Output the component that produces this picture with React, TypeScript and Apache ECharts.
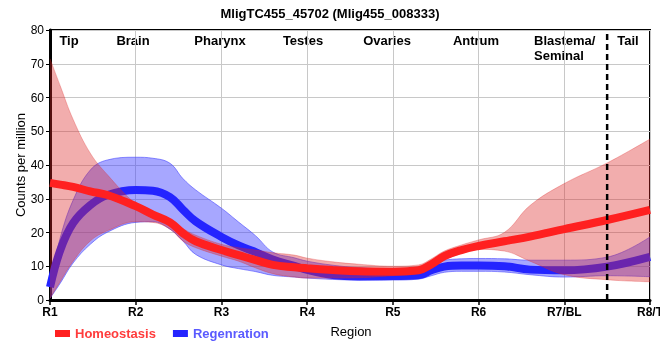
import React, { useEffect, useRef } from 'react';
import * as echarts from 'echarts';

const chartTitle = 'MligTC455_45702 (Mlig455_008333)';
const regionTicks = ['R1', 'R2', 'R3', 'R4', 'R5', 'R6', 'R7/BL', 'R8/T'];
const tissueNames = ['Tip', 'Brain', 'Pharynx', 'Testes', 'Ovaries', 'Antrum', 'Blastema/\nSeminal', 'Tail'];
const seriesNames = ['Homeostasis', 'Regenration'];

// positions along the body axis (0 = R1 ... 7 = R8/T)
const positions = [0, 0.12, 0.27, 0.47, 0.67, 1, 1.2, 1.4, 1.55, 1.7, 2, 2.2, 2.4, 2.6, 2.85, 3, 3.3, 3.6, 4, 4.3, 4.45, 4.6, 4.8, 5, 5.3, 5.6, 6, 6.5, 7];

const homeoMean = [34.7, 34.2, 33.5, 32.2, 31.1, 27.8, 25.3, 23.0, 19.8, 17.4, 14.8, 13.3, 11.8, 10.4, 9.7, 9.4, 8.9, 8.5, 8.4, 8.8, 10.6, 13.0, 14.8, 16.0, 17.4, 18.8, 21.0, 23.7, 26.7];
const homeoUpper = [71.5, 63.4, 53.5, 43.5, 37.1, 28.5, 26.0, 24.0, 21.2, 19.2, 16.5, 15.5, 14.8, 14.0, 13.3, 12.4, 11.3, 10.6, 10.0, 10.4, 12.2, 14.5, 16.3, 17.8, 20.0, 28.0, 34.5, 40.6, 47.7];
const homeoLower = [0.5, 5.5, 11.5, 17.5, 20.5, 23.2, 23.0, 21.0, 17.5, 15.5, 13.0, 11.5, 9.5, 7.8, 6.8, 6.5, 6.5, 6.6, 7.2, 7.8, 9.3, 11.8, 13.8, 15.0, 14.5, 11.5, 7.5, 6.0, 5.4];

const regenMean = [3.8, 14.8, 22.8, 28.1, 31.1, 32.6, 32.4, 30.5, 26.8, 23.3, 18.7, 16.2, 14.2, 12.0, 10.1, 8.9, 7.4, 7.0, 7.1, 7.3, 8.8, 9.9, 10.2, 10.2, 10.0, 9.0, 8.8, 9.9, 12.8];
const regenUpper = [5.0, 18.5, 29.6, 38.5, 41.5, 42.3, 42.0, 40.5, 36.0, 32.6, 27.2, 23.1, 19.0, 14.2, 12.5, 11.5, 10.3, 9.6, 9.2, 9.5, 10.8, 11.8, 12.2, 12.3, 12.2, 11.8, 11.8, 12.7, 18.7];
const regenLower = [0.5, 5.0, 11.0, 16.5, 20.1, 23.0, 23.2, 21.0, 17.5, 13.5, 10.4, 9.3, 8.4, 7.3, 6.8, 6.5, 6.1, 5.9, 5.9, 6.2, 7.2, 8.2, 8.5, 8.5, 8.3, 7.5, 6.8, 7.2, 6.9];

const tailBoundary = 6.5;
const yRange = [0, 80];

const FONT = "'Liberation Sans', Arial, Helvetica, sans-serif";

const pts = (ys: number[]) => positions.map((x, i) => [x, ys[i]]);
// for stacked band series: value first (so the value dimension is the stacked one), position second
const bandPts = (ys: number[]) => positions.map((x, i) => [ys[i], x]);
const bandDiff = (hi: number[], lo: number[]) => positions.map((x, i) => [+(hi[i] - lo[i]).toFixed(2), x]);

export default function App() {
  const ref = useRef<HTMLDivElement>(null);
  useEffect(() => {
    if (!ref.current) return;
    const chart = echarts.init(ref.current, null, { renderer: 'svg' });
    const smooth = 0.4;
    const redLine = '#ff2020';
    const blueLine = '#2424ff';
    const redBand = 'rgba(222,40,40,0.38)';
    const blueBand = 'rgba(60,60,255,0.45)';
    const bandEncode = { x: 1, y: 0 };

    const tissueLayout = [
      { x: 69, align: 'center' },
      { x: 133, align: 'center' },
      { x: 220, align: 'center' },
      { x: 303, align: 'center' },
      { x: 387, align: 'center' },
      { x: 476, align: 'center' },
      { x: 534, align: 'left' },
      { x: 628, align: 'center' },
    ];

    const option: any = {
      animation: false,
      title: {
        text: chartTitle,
        left: 'center',
        top: 2,
        textStyle: { fontFamily: FONT, fontSize: 13, fontWeight: 'bold', color: '#000' },
      },
      grid: {
        left: 50, right: 10, top: 30, bottom: 60,
        show: true, borderColor: '#000', borderWidth: 2,
        outerBoundsMode: 'none',
      },
      legend: {
        data: [
          { name: seriesNames[0], textStyle: { color: '#ff3c3c' } },
          { name: seriesNames[1], textStyle: { color: '#5a5aff' } },
        ],
        left: 55, top: 327, padding: 0,
        itemWidth: 15, itemHeight: 7, itemGap: 17,
        icon: 'rect',
        textStyle: { fontFamily: FONT, fontSize: 13, fontWeight: 'bold' },
      },
      xAxis: {
        type: 'value', min: 0, max: 7, interval: 1,
        axisLine: { show: true, lineStyle: { color: '#000', width: 3 } },
        axisTick: { show: true, length: 5, lineStyle: { color: '#000', width: 1.5 } },
        axisLabel: {
          formatter: (v: number) => regionTicks[Math.round(v)] ?? '',
          fontFamily: FONT, fontSize: 12, fontWeight: 'bold', color: '#000', margin: 6,
          showMinLabel: true, showMaxLabel: true,
        },
        splitLine: { show: true, lineStyle: { color: '#c8c8c8', width: 1 } },
      },
      yAxis: {
        type: 'value', min: yRange[0], max: yRange[1], interval: 10,
        axisLine: { show: true, lineStyle: { color: '#000', width: 3 } },
        axisTick: { show: true, length: 4, lineStyle: { color: '#000', width: 1 } },
        axisLabel: { fontFamily: FONT, fontSize: 12, color: '#000', margin: 6 },
        splitLine: { show: true, lineStyle: { color: '#c8c8c8', width: 1 } },
      },
      graphic: [
        ...tissueNames.map((t, i) => ({
          type: 'text', x: tissueLayout[i].x, y: 33, silent: true,
          style: {
            text: t, fill: '#000', font: `bold 13px ${FONT}`,
            textAlign: tissueLayout[i].align, textVerticalAlign: 'top', lineHeight: 15,
          },
        })),
        {
          type: 'text', x: 20, y: 165, rotation: Math.PI / 2, silent: true,
          style: { text: 'Counts per million', fill: '#000', font: `13px ${FONT}`, textAlign: 'center', textVerticalAlign: 'middle' },
        },
        {
          type: 'text', x: 351, y: 331, silent: true,
          style: { text: 'Region', fill: '#000', font: `13px ${FONT}`, textAlign: 'center', textVerticalAlign: 'middle' },
        },
      ],
      series: [
        {
          name: 'regenLow', type: 'line', stack: 'regen', data: bandPts(regenLower), encode: bandEncode, smooth,
          symbol: 'none', silent: true, z: 1,
          lineStyle: { width: 1, color: 'rgba(60,60,255,0.55)' },
        },
        {
          name: 'regenBand', type: 'line', stack: 'regen', data: bandDiff(regenUpper, regenLower), encode: bandEncode, smooth,
          symbol: 'none', silent: true, z: 1,
          lineStyle: { width: 1, color: 'rgba(60,60,255,0.55)' },
          areaStyle: { color: blueBand, opacity: 1 },
        },
        {
          name: seriesNames[1], type: 'line', data: pts(regenMean), smooth,
          symbol: 'none', z: 2, color: blueLine,
          lineStyle: { width: 8, color: blueLine },
        },
        {
          name: 'homeoLow', type: 'line', stack: 'homeo', data: bandPts(homeoLower), encode: bandEncode, smooth,
          symbol: 'none', silent: true, z: 3,
          lineStyle: { width: 1, color: 'rgba(222,40,40,0.3)' },
        },
        {
          name: 'homeoBand', type: 'line', stack: 'homeo', data: bandDiff(homeoUpper, homeoLower), encode: bandEncode, smooth,
          symbol: 'none', silent: true, z: 3,
          lineStyle: { width: 1, color: 'rgba(222,40,40,0.3)' },
          areaStyle: { color: redBand, opacity: 1 },
        },
        {
          name: seriesNames[0], type: 'line', data: pts(homeoMean), smooth,
          symbol: 'none', z: 4, color: redLine,
          lineStyle: { width: 8, color: redLine },
        },
        {
          name: 'tailBoundary', type: 'line', data: [[tailBoundary, yRange[0]], [tailBoundary, yRange[1]]],
          symbol: 'none', silent: true, z: 6,
          lineStyle: { width: 2.5, color: '#000', type: [6, 4] },
        },
      ],
    };
    chart.setOption(option);
    return () => chart.dispose();
  }, []);
  return <div ref={ref} style={{ position: 'fixed', left: 0, top: 0, width: 660, height: 360 }} />;
}
